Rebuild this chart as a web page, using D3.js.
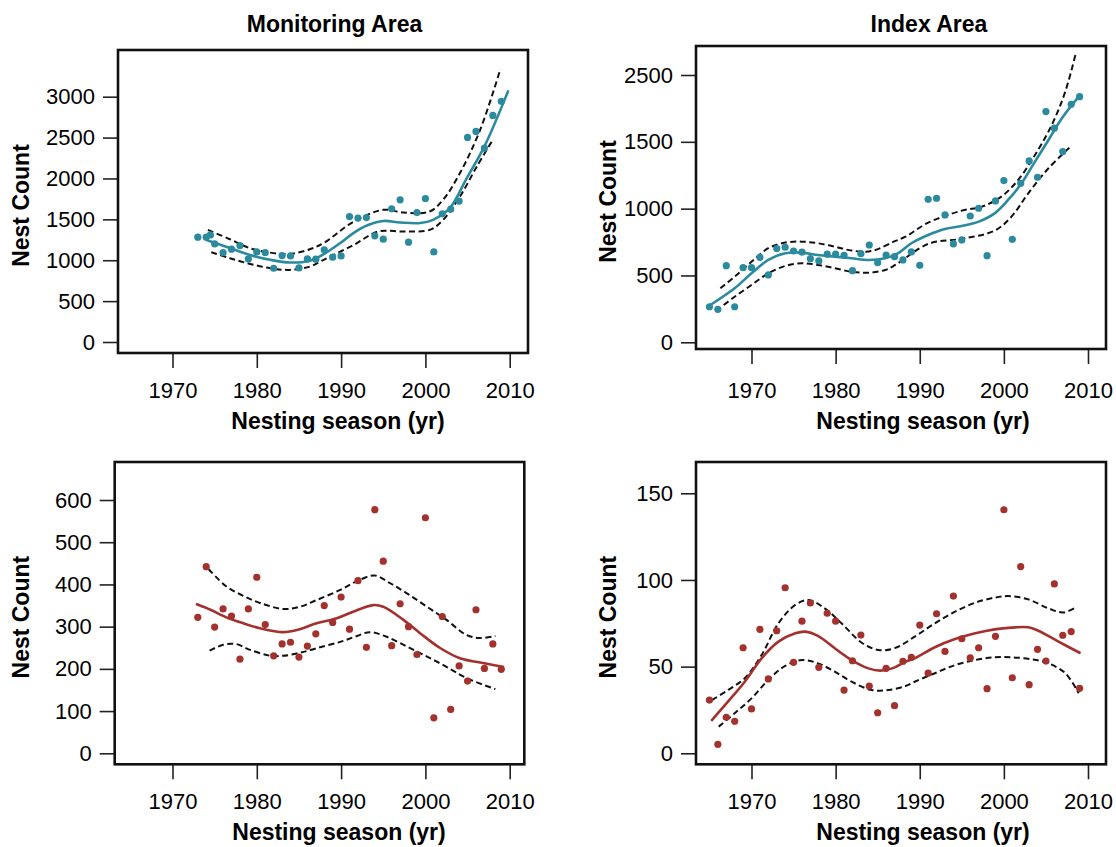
<!DOCTYPE html>
<html>
<head>
<meta charset="utf-8">
<script src="https://cdn.jsdelivr.net/npm/d3@7"></script>
<style>
  html, body { margin: 0; padding: 0; background: #fff; }
  svg { display: block; }
  text { font-family: "Liberation Sans", Arial, Helvetica, sans-serif; fill: #000; }
</style>
</head>
<body>
<svg id="chart" width="1116" height="847"></svg>
<script>
// ---------------- DATA ----------------
const xTickYears = [1970, 1980, 1990, 2000, 2010];
const titles = ["Monitoring Area", "Index Area"];
const xTitle = "Nesting season (yr)";
const yTitle = "Nest Count";

// Panel 1: Monitoring Area (top)
const years1 = [1973, 1974, 1974.5, 1975, 1976, 1977, 1978, 1979, 1980, 1981, 1982, 1983, 1984, 1985, 1986, 1987, 1988, 1989, 1990,
  1991, 1992, 1993, 1994, 1995, 1996, 1997, 1998, 1999, 2000, 2001, 2002, 2003, 2004, 2005, 2006, 2007, 2008, 2009];
const counts1 = [1282, 1282, 1310, 1200, 1093, 1135, 1179, 1016, 1102, 1093, 902, 1057, 1053, 906, 1016, 1013, 1127, 1037, 1053,
  1534, 1515, 1522, 1298, 1258, 1629, 1739, 1221, 1583, 1755, 1102, 1567, 1625, 1723, 2502, 2575, 2372, 2771, 2943];
const fit1 = [[1974.1, 1245], [1976.8, 1150], [1979.2, 1065], [1981.6, 1005], [1983.9, 972], [1986.3, 995], [1987.9, 1072],
  [1990.1, 1225], [1991.5, 1335], [1993.2, 1430], [1995.0, 1480], [1997.0, 1462], [1999.4, 1455], [2000.9, 1494],
  [2002.9, 1637], [2004.8, 1984], [2007.0, 2392], [2009.8, 3065]];
const upper1 = [[1974.2, 1371], [1976.8, 1257], [1979.2, 1147], [1981.6, 1093], [1983.9, 1078], [1986.3, 1135], [1988.0, 1215],
  [1991.5, 1473], [1995.0, 1616], [1997.4, 1583], [2000.5, 1596], [2002.1, 1739], [2004.1, 2066], [2006.5, 2596], [2008.9, 3339]];
const lower1 = [[1974.6, 1098], [1976.8, 1025], [1979.2, 955], [1981.6, 902], [1983.9, 882], [1986.3, 922], [1987.5, 983],
  [1988.7, 1045], [1991.5, 1188], [1994.4, 1351], [1997.4, 1351], [2000.5, 1371], [2002.1, 1494], [2004.1, 1779],
  [2006.1, 2147], [2008.0, 2473]];

// Panel 2: Index Area (top)
const years2 = d3.range(1965, 2010);
const counts2 = [266, 247, 573, 266, 558, 558, 636, 504, 701, 711, 683, 674, 626, 609, 659, 659, 651, 536, 663, 728, 596,
  653, 641, 616, 676, 576, 1070, 1078, 953, 736, 766, 945, 1003, 648, 1058, 1210, 771, 1190, 1357, 1235, 1726, 1602, 1427, 1781, 1838];
const fit2 = [[1965.1, 279], [1968.0, 404], [1970.0, 516], [1972.0, 616], [1974.0, 666], [1976.0, 671], [1977.9, 653],
  [1979.9, 641], [1981.9, 629], [1983.9, 616], [1985.9, 629], [1987.4, 665], [1989.0, 741], [1991.0, 803], [1993.0, 848],
  [1995.0, 870], [1997.0, 903], [1998.9, 965], [2000.5, 1065], [2002.1, 1190], [2003.7, 1352], [2005.3, 1514],
  [2006.9, 1677], [2008.9, 1838]];
const upper2 = [[1966.3, 404], [1968.0, 491], [1970.0, 603], [1972.0, 704], [1974.0, 746], [1976.0, 753], [1977.9, 741],
  [1979.9, 716], [1981.9, 686], [1984.3, 683], [1986.9, 753], [1988.3, 790], [1991.0, 895], [1995.0, 985], [1997.4, 1015],
  [1999.7, 1090], [2001.7, 1215], [2003.7, 1402], [2005.7, 1627], [2007.3, 1876], [2008.5, 2150]];
const lower2 = [[1966.7, 279], [1968.0, 341], [1970.0, 429], [1972.0, 516], [1974.0, 571], [1976.0, 591], [1977.9, 579],
  [1979.9, 554], [1981.9, 528], [1983.9, 521], [1985.9, 541], [1987.1, 579], [1991.0, 736], [1995.0, 775], [1998.9, 835],
  [2000.9, 940], [2002.9, 1115], [2005.3, 1302], [2008.0, 1469]];
const yTicks2 = [0, 500, 1000, 1500, 2000];
const yTickLabels2 = ["0", "500", "1000", "1500", "2500"];

// Panel 3: Monitoring Area (bottom)
const years3 = d3.range(1973, 2010);
const counts3 = [322, 442, 299, 342, 325, 223, 342, 417, 305, 231, 259, 263, 228, 254, 283, 350, 310, 370, 294, 409, 251,
  577, 455, 255, 354, 300, 234, 558, 84, 324, 104, 207, 171, 340, 201, 259, 199];
const fit3 = [[1972.9, 353], [1974.5, 340], [1976.4, 322], [1978.4, 308], [1980.4, 296], [1983.1, 287], [1985.1, 294],
  [1987.1, 308], [1989.5, 320], [1991.5, 336], [1993.8, 351], [1995.0, 347], [1997.4, 316], [1999.4, 284], [2001.7, 250],
  [2004.1, 225], [2006.5, 215], [2009.2, 205]];
const upper3 = [[1974.3, 436], [1976.4, 395], [1978.4, 373], [1980.4, 356], [1983.1, 342], [1985.1, 347], [1987.1, 363],
  [1989.9, 387], [1991.9, 408], [1994.0, 421], [1995.8, 403], [1997.8, 379], [2000.2, 347], [2002.5, 316], [2004.9, 280],
  [2006.5, 273], [2008.3, 278]];
const lower3 = [[1974.4, 243], [1976.0, 257], [1977.5, 259], [1979.2, 245], [1981.6, 231], [1983.1, 231], [1985.1, 238],
  [1987.1, 249], [1989.9, 264], [1991.9, 278], [1993.4, 287], [1995.4, 276], [1997.8, 253], [2000.2, 229], [2002.5, 205],
  [2004.9, 178], [2008.3, 152]];

// Panel 4: Index Area (bottom)
const years4 = d3.range(1965, 2010);
const counts4 = [30.7, 5.2, 20.8, 18.5, 60.9, 25.6, 71.5, 42.9, 70.7, 95.5, 52.5, 76.2, 86.7, 49.6, 80.8, 76.2, 36.5, 53.4,
  68.2, 38.8, 23.4, 49.0, 27.5, 53.1, 55.4, 74.0, 46.2, 80.5, 58.8, 90.7, 66.1, 55.0, 60.9, 37.3, 67.5, 140.5, 43.6, 107.7,
  39.6, 60.0, 53.2, 97.7, 68.1, 70.2, 37.5];
const fit4 = [[1965.3, 19.2], [1967.2, 29.8], [1969.2, 41.3], [1971.2, 54.8], [1973.2, 64.4], [1975.2, 69.2], [1976.4, 70.2],
  [1977.9, 67.7], [1979.9, 60.6], [1981.9, 53.8], [1983.9, 49.0], [1985.3, 47.7], [1986.7, 49.0], [1988.3, 52.8],
  [1989.4, 54.8], [1991.8, 61.2], [1994.2, 65.9], [1996.6, 69.2], [1998.9, 71.5], [2000.9, 72.5], [2002.9, 72.7],
  [2004.1, 70.7], [2006.5, 64.4], [2009.0, 58.0]];
const upper4 = [[1965.3, 30.7], [1967.2, 36.5], [1969.2, 43.3], [1971.2, 56.7], [1973.2, 75.0], [1975.2, 85.6], [1976.8, 88.4],
  [1978.7, 83.6], [1980.7, 75.0], [1983.1, 63.8], [1985.1, 59.6], [1987.1, 60.8], [1989.4, 67.3], [1991.8, 75.0],
  [1994.2, 81.7], [1996.6, 86.9], [1998.9, 89.8], [2000.5, 90.7], [2002.9, 88.8], [2005.3, 83.6], [2007.1, 81.3], [2008.7, 84.6]];
const lower4 = [[1966.1, 15.4], [1968.0, 23.1], [1970.0, 31.7], [1972.0, 42.3], [1974.0, 50.4], [1976.0, 53.8], [1977.9, 51.9],
  [1979.9, 47.1], [1981.9, 41.3], [1984.3, 36.5], [1986.3, 36.5], [1988.3, 38.8], [1989.4, 41.3], [1991.8, 46.2],
  [1994.2, 50.9], [1996.6, 53.8], [1998.9, 55.4], [2000.9, 55.4], [2003.3, 54.2], [2005.3, 51.9], [2007.3, 46.2], [2008.9, 34.6]];

// ---------------- LAYOUT / STYLE ----------------
const TEAL = "#2b8a9e";
const RED = "#a3322f";
const svg = d3.select("#chart");

const panels = [
  { box: [118, 50, 528, 353], xr: [172.5, 509.7], yd: [0, 3000], yr: [342, 96.7],
    yTicks: d3.range(0, 3001, 500), yLabels: null, years: years1, counts: counts1, fit: fit1, upper: upper1, lower: lower1,
    color: TEAL, title: titles[0], titleX: 334.5, yTitleX: 20.5, xTitleX: 338, rowTickY: 390, rowTitleY: 429 },
  { box: [696, 46, 1106, 349], xr: [751.5, 1088], yd: [0, 2000], yr: [342.3, 75],
    yTicks: yTicks2, yLabels: yTickLabels2, years: years2, counts: counts2, fit: fit2, upper: upper2, lower: lower2,
    color: TEAL, title: titles[1], titleX: 929, yTitleX: 607.5, xTitleX: 923, rowTickY: 390, rowTitleY: 429 },
  { box: [114.7, 462, 524.3, 764.3], xr: [172.5, 509.7], yd: [0, 600], yr: [753.3, 500],
    yTicks: d3.range(0, 601, 100), yLabels: null, years: years3, counts: counts3, fit: fit3, upper: upper3, lower: lower3,
    color: RED, title: null, yTitleX: 20.5, xTitleX: 339, rowTickY: 801, rowTitleY: 840 },
  { box: [696, 462, 1106, 764.3], xr: [751.5, 1088], yd: [0, 150], yr: [753.3, 493.3],
    yTicks: [0, 50, 100, 150], yLabels: null, years: years4, counts: counts4, fit: fit4, upper: upper4, lower: lower4,
    color: RED, title: null, yTitleX: 607.5, xTitleX: 923, rowTickY: 801, rowTitleY: 840 }
];

panels.forEach(p => {
  const [x0, y0, x1, y1] = p.box;
  const x = d3.scaleLinear().domain([1970, 2010]).range(p.xr);
  const y = d3.scaleLinear().domain(p.yd).range(p.yr);
  const g = svg.append("g");
  const tickSize = 15;

  // y axis
  const ya = d3.axisLeft(y).tickValues(p.yTicks).tickSize(tickSize).tickPadding(8)
    .tickFormat((d, i) => p.yLabels ? p.yLabels[i] : String(d));
  const yg = g.append("g").attr("transform", `translate(${x0},0)`).call(ya);
  yg.select(".domain").remove();
  yg.selectAll(".tick line").attr("stroke", "#222").attr("stroke-width", 1.6);
  yg.selectAll(".tick text").attr("font-size", 22).attr("fill", "#000");

  // x axis
  const xa = d3.axisBottom(x).tickValues(xTickYears).tickSize(tickSize).tickFormat(d3.format("d"));
  const xg = g.append("g").attr("transform", `translate(0,${y1})`).call(xa);
  xg.select(".domain").remove();
  xg.selectAll(".tick line").attr("stroke", "#222").attr("stroke-width", 1.6);
  xg.selectAll(".tick text").attr("font-size", 22).attr("fill", "#000")
    .attr("y", p.rowTickY - y1).attr("dy", "0.35em");

  // clip
  const clipId = "clip" + Math.round(x0) + "_" + Math.round(y0);
  svg.append("clipPath").attr("id", clipId).append("rect")
    .attr("x", x0).attr("y", y0).attr("width", x1 - x0).attr("height", y1 - y0);
  const plot = g.append("g").attr("clip-path", `url(#${clipId})`);

  const line = d3.line().x(d => x(d[0])).y(d => y(d[1])).curve(d3.curveCatmullRom.alpha(0.5));

  [p.upper, p.lower].forEach(ci => {
    plot.append("path").datum(ci).attr("d", line).attr("fill", "none")
      .attr("stroke", "#111").attr("stroke-width", 2).attr("stroke-dasharray", "6,3.5");
  });
  plot.append("path").datum(p.fit).attr("d", line).attr("fill", "none")
    .attr("stroke", p.color).attr("stroke-width", 2.6).attr("stroke-linecap", "round");

  plot.selectAll("circle").data(p.years.map((yr, i) => [yr, p.counts[i]])).join("circle")
    .attr("cx", d => x(d[0])).attr("cy", d => y(d[1])).attr("r", 3.6).attr("fill", p.color);

  // box
  g.append("rect").attr("x", x0).attr("y", y0).attr("width", x1 - x0).attr("height", y1 - y0)
    .attr("fill", "none").attr("stroke", "#111").attr("stroke-width", 2.6);

  // titles
  if (p.title) {
    svg.append("text").attr("x", p.titleX).attr("y", 32).attr("text-anchor", "middle")
      .attr("font-size", 23).attr("font-weight", "bold").text(p.title);
  }
  svg.append("text").attr("x", p.xTitleX).attr("y", p.rowTitleY).attr("text-anchor", "middle")
    .attr("font-size", 23).attr("font-weight", "bold").text(xTitle);
  const cy = (y0 + y1) / 2 + 4;
  svg.append("text").attr("transform", `translate(${p.yTitleX + 8},${cy}) rotate(-90)`)
    .attr("text-anchor", "middle").attr("font-size", 23).attr("font-weight", "bold").text(yTitle);
});
</script>
</body>
</html>
